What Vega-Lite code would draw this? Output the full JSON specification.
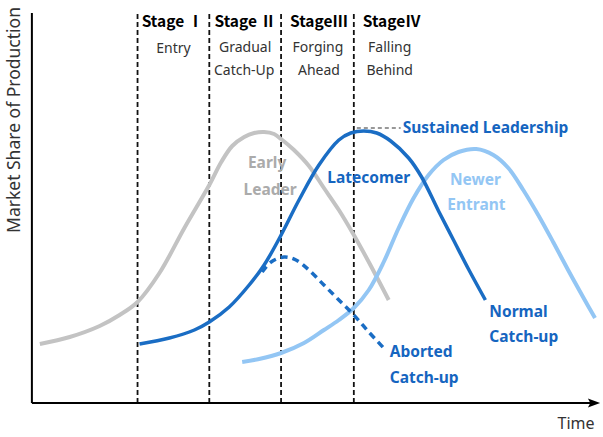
{
  "$schema": "https://vega.github.io/schema/vega-lite/v6.json",
  "width": 603,
  "height": 437,
  "padding": 0,
  "autosize": {"type": "fit", "contains": "padding"},
  "background": "white",
  "config": {"view": {"stroke": null}, "text": {"font": "Noto Sans, Noto Sans CJK KR"}},
  "datasets": {
    "early": [
      {"t": 8, "s": 59}, {"t": 38, "s": 66}, {"t": 68, "s": 77}, {"t": 88, "s": 88}, {"t": 106, "s": 101},
      {"t": 128, "s": 130}, {"t": 153, "s": 175}, {"t": 178, "s": 218}, {"t": 190, "s": 241}, {"t": 201, "s": 257},
      {"t": 213, "s": 266}, {"t": 223, "s": 270}, {"t": 233, "s": 271}, {"t": 243, "s": 269}, {"t": 250, "s": 264},
      {"t": 263, "s": 253}, {"t": 278, "s": 237}, {"t": 293, "s": 215}, {"t": 308, "s": 193}, {"t": 323, "s": 168},
      {"t": 338, "s": 141}, {"t": 358, "s": 103}
    ],
    "late": [
      {"t": 108, "s": 59}, {"t": 138, "s": 65}, {"t": 163, "s": 73}, {"t": 178, "s": 81}, {"t": 198, "s": 96},
      {"t": 218, "s": 118}, {"t": 233, "s": 138}, {"t": 249, "s": 166}, {"t": 268, "s": 203}, {"t": 288, "s": 238},
      {"t": 308, "s": 263}, {"t": 320, "s": 270}, {"t": 333, "s": 272}, {"t": 346, "s": 270}, {"t": 360, "s": 262},
      {"t": 378, "s": 245}, {"t": 391, "s": 226}, {"t": 408, "s": 192}, {"t": 423, "s": 163}, {"t": 438, "s": 134},
      {"t": 455, "s": 103}
    ],
    "aborted": [
      {"t": 231, "s": 131}, {"t": 240, "s": 141}, {"t": 253, "s": 146}, {"t": 265, "s": 143}, {"t": 278, "s": 133},
      {"t": 293, "s": 118}, {"t": 308, "s": 103}, {"t": 323, "s": 88}, {"t": 338, "s": 71}, {"t": 353, "s": 55}
    ],
    "newer": [
      {"t": 211, "s": 41}, {"t": 228, "s": 44}, {"t": 250, "s": 50}, {"t": 273, "s": 60}, {"t": 293, "s": 73},
      {"t": 308, "s": 83}, {"t": 323, "s": 95}, {"t": 338, "s": 113}, {"t": 353, "s": 141}, {"t": 368, "s": 175},
      {"t": 383, "s": 205}, {"t": 398, "s": 228}, {"t": 413, "s": 243}, {"t": 428, "s": 251}, {"t": 446, "s": 254},
      {"t": 463, "s": 248}, {"t": 478, "s": 235}, {"t": 493, "s": 213}, {"t": 508, "s": 188}, {"t": 523, "s": 161},
      {"t": 538, "s": 133}, {"t": 553, "s": 106}, {"t": 565, "s": 85}
    ]
  },
  "encoding": {
    "x": {"field": "t", "type": "quantitative", "scale": {"domain": [-32, 571], "nice": false, "zero": false}, "axis": null},
    "y": {"field": "s", "type": "quantitative", "scale": {"domain": [-34, 403], "nice": false, "zero": false}, "axis": null}
  },
  "layer": [
    {
      "data": {"values": [{"t": 106, "s": 0, "s2": 391}, {"t": 178, "s": 0, "s2": 391}, {"t": 250, "s": 0, "s2": 391}, {"t": 323, "s": 0, "s2": 391}]},
      "mark": {"type": "rule", "color": "#111111", "strokeWidth": 1.8, "strokeDash": [5, 3]},
      "encoding": {"y2": {"field": "s2"}}
    },
    {
      "data": {"values": [{"t": 0, "s": 0, "t2": 0, "s2": 390}, {"t": 0, "s": 0, "t2": 566, "s2": 0}]},
      "mark": {"type": "rule", "color": "#000000", "strokeWidth": 2},
      "encoding": {"x2": {"field": "t2"}, "y2": {"field": "s2"}}
    },
    {
      "data": {"values": [{"t": 564, "s": 0}]},
      "mark": {"type": "point", "shape": "M-1,-0.75L1,0L-1,0.75L-0.6,0Z", "size": 150, "filled": true, "color": "#000000", "opacity": 1}
    },
    {
      "data": {"name": "early"},
      "mark": {"type": "line", "color": "#c3c3c3", "strokeWidth": 4, "interpolate": "catmull-rom"}
    },
    {
      "data": {"name": "newer"},
      "mark": {"type": "line", "color": "#93c6f4", "strokeWidth": 4, "interpolate": "catmull-rom"}
    },
    {
      "data": {"name": "late"},
      "mark": {"type": "line", "color": "#1a6dc4", "strokeWidth": 3.5, "interpolate": "catmull-rom"}
    },
    {
      "data": {"name": "aborted"},
      "mark": {"type": "line", "color": "#1a6dc4", "strokeWidth": 3.5, "strokeDash": [7, 5], "interpolate": "catmull-rom"}
    },
    {
      "data": {"values": [{"t": 326, "s": 275, "t2": 370}]},
      "mark": {"type": "rule", "color": "#777777", "strokeWidth": 1.5, "strokeDash": [4, 3]},
      "encoding": {"x2": {"field": "t2"}}
    },
    {
      "data": {"values": [
        {"t": 141, "s": 381, "label": "Stage Ⅰ"},
        {"t": 214, "s": 381, "label": "Stage Ⅱ"},
        {"t": 288, "s": 381, "label": "StageⅢ"},
        {"t": 361, "s": 381, "label": "StageⅣ"}
      ]},
      "mark": {"type": "text", "font": "Noto Sans CJK KR", "fontSize": 15.5, "fontWeight": "bold", "color": "#000000", "align": "center", "baseline": "middle"},
      "encoding": {"text": {"field": "label"}}
    },
    {
      "data": {"values": [
        {"t": 142, "s": 354, "label": "Entry"},
        {"t": 214, "s": 355, "label": "Gradual"},
        {"t": 213, "s": 332, "label": "Catch-Up"},
        {"t": 287, "s": 355, "label": "Forging"},
        {"t": 288, "s": 332, "label": "Ahead"},
        {"t": 359, "s": 355, "label": "Falling"},
        {"t": 359, "s": 332, "label": "Behind"}
      ]},
      "mark": {"type": "text", "fontSize": 14, "color": "#333333", "align": "center", "baseline": "middle"},
      "encoding": {"text": {"field": "label"}}
    },
    {
      "data": {"values": [
        {"t": 236, "s": 240, "label": "Early"},
        {"t": 239, "s": 213, "label": "Leader"}
      ]},
      "mark": {"type": "text", "fontSize": 15.5, "fontWeight": "bold", "color": "#ababab", "align": "center", "baseline": "middle"},
      "encoding": {"text": {"field": "label"}}
    },
    {
      "data": {"values": [
        {"t": 445, "s": 223, "label": "Newer"},
        {"t": 446, "s": 198, "label": "Entrant"}
      ]},
      "mark": {"type": "text", "fontSize": 15.5, "fontWeight": "bold", "color": "#93c6f4", "align": "center", "baseline": "middle"},
      "encoding": {"text": {"field": "label"}}
    },
    {
      "data": {"values": [
        {"t": 338, "s": 225, "label": "Latecomer"}
      ]},
      "mark": {"type": "text", "fontSize": 15.5, "fontWeight": "bold", "color": "#1565c0", "align": "center", "baseline": "middle"},
      "encoding": {"text": {"field": "label"}}
    },
    {
      "data": {"values": [
        {"t": 372, "s": 275, "label": "Sustained Leadership"},
        {"t": 459, "s": 91, "label": "Normal"},
        {"t": 459, "s": 66, "label": "Catch-up"},
        {"t": 359, "s": 51, "label": "Aborted"},
        {"t": 359, "s": 25, "label": "Catch-up"}
      ]},
      "mark": {"type": "text", "fontSize": 15.5, "fontWeight": "bold", "color": "#1565c0", "align": "left", "baseline": "middle"},
      "encoding": {"text": {"field": "label"}}
    },
    {
      "data": {"values": [{"t": 546, "s": -21, "label": "Time"}]},
      "mark": {"type": "text", "fontSize": 16, "color": "#333333", "align": "center", "baseline": "middle"},
      "encoding": {"text": {"field": "label"}}
    },
    {
      "data": {"values": [{"t": -17, "s": 283, "label": "Market Share of Production"}]},
      "mark": {"type": "text", "fontSize": 17.5, "color": "#333333", "align": "center", "baseline": "middle", "angle": 270},
      "encoding": {"text": {"field": "label"}}
    }
  ]
}
